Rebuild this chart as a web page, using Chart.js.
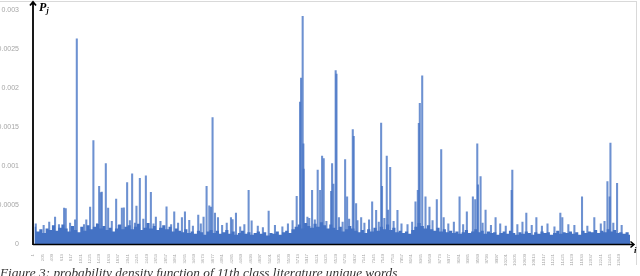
<!DOCTYPE html>
<html>
<head>
<meta charset="utf-8">
<script src="https://cdn.jsdelivr.net/npm/chart.js@4"></script>
<style>
  html, body { margin: 0; padding: 0; background: #fff; overflow: hidden; }
  #wrap { position: relative; width: 640px; height: 276px; }
  #frame { position: absolute; left: -2px; top: 1px; width: 639px; height: 264px;
           border-top: 1px solid #d9d9d9; border-right: 1px solid #d9d9d9; box-sizing: border-box; }
  #box { position: absolute; left: 0; top: 0; width: 640px; height: 266px; }
  #caption { position: absolute; left: 0; top: 266px; font: italic 13.3px 'Liberation Serif', serif;
             color: #333; white-space: nowrap; line-height: 14px; }
</style>
</head>
<body>
<div id="wrap">
  <div id="frame"></div>
  <div id="box"><canvas id="chart"></canvas></div>
  <div id="caption">Figure 3: probability density function of 11th class literature unique words</div>
</div>
<script>
// word rank labels shown on the x axis
const tickLabels = [
  1, 205, 409, 613, 817, 1021, 1225, 1429, 1633, 1837, 2041, 2245, 2449, 2653, 2857, 3061,
  3265, 3469, 3673, 3877, 4081, 4285, 4489, 4693, 4897, 5101, 5305, 5509, 5713, 5917, 6121,
  6325, 6529, 6733, 6937, 7141, 7345, 7549, 7753, 7957, 8161, 8365, 8569, 8773, 8977, 9181,
  9385, 9589, 9793, 9997, 10201, 10405, 10609, 10813, 11017, 11221, 11425, 11629, 11833,
  12037, 12241, 12445, 12649
];
const lastWord = 12880;

// background level, one value per 68 words
const binWidth = 68;
const baseLevel = [
  0.00022, 0.00016, 0.00019, 0.00014, 0.00020, 0.00018, 0.00024, 0.00017, 0.00021, 0.00025,
  0.00020, 0.00016, 0.00023, 0.00018, 0.00015, 0.00022, 0.00017, 0.00024, 0.00019, 0.00022,
  0.00026, 0.00020, 0.00023, 0.00018, 0.00021, 0.00016, 0.00020, 0.00025, 0.00019, 0.00022,
  0.00024, 0.00019, 0.00022, 0.00026, 0.00018, 0.00021, 0.00027, 0.00020, 0.00023, 0.00018,
  0.00021, 0.00024, 0.00019, 0.00022, 0.00016, 0.00020, 0.00017, 0.00015, 0.00019, 0.00014,
  0.00016, 0.00013, 0.00017, 0.00015, 0.00012, 0.00016, 0.00018, 0.00014, 0.00017, 0.00013,
  0.00015, 0.00018, 0.00013, 0.00016, 0.00012, 0.00014, 0.00017, 0.00013, 0.00015, 0.00012,
  0.00014, 0.00016, 0.00013, 0.00015, 0.00011, 0.00014, 0.00013, 0.00016, 0.00012, 0.00015,
  0.00017, 0.00014, 0.00019, 0.00022, 0.00025, 0.00020, 0.00027, 0.00023, 0.00021, 0.00026,
  0.00022, 0.00028, 0.00024, 0.00020, 0.00025, 0.00021, 0.00018, 0.00022, 0.00016, 0.00019,
  0.00023, 0.00020, 0.00017, 0.00015, 0.00018, 0.00014, 0.00019, 0.00016, 0.00021, 0.00017,
  0.00022, 0.00019, 0.00025, 0.00018, 0.00021, 0.00015, 0.00017, 0.00014, 0.00016, 0.00013,
  0.00018, 0.00022, 0.00027, 0.00023, 0.00020, 0.00024, 0.00019, 0.00017, 0.00021, 0.00016,
  0.00019, 0.00015, 0.00017, 0.00014, 0.00016, 0.00013, 0.00015, 0.00018, 0.00014, 0.00016,
  0.00019, 0.00015, 0.00017, 0.00013, 0.00016, 0.00014, 0.00015, 0.00012, 0.00014, 0.00016,
  0.00013, 0.00017, 0.00014, 0.00012, 0.00015, 0.00013, 0.00016, 0.00014, 0.00012, 0.00015,
  0.00013, 0.00016, 0.00014, 0.00015, 0.00012, 0.00014, 0.00017, 0.00013, 0.00015, 0.00014,
  0.00016, 0.00013, 0.00015, 0.00012, 0.00017, 0.00014, 0.00016, 0.00015, 0.00018, 0.00014,
  0.00017, 0.00015, 0.00019, 0.00016, 0.00018, 0.00014, 0.00015, 0.00013, 0.00015, 0.00012
];

// individual words that stand out above the background
const spikeWord = [
  476, 671, 707, 908, 945, 1232, 1303, 1427, 1460, 1485, 1571, 1621, 1794, 1917, 1960,
  2031, 2139, 2232, 2305, 2435, 2543, 2651, 2881, 3047, 3213, 3278, 3371, 3565, 3680,
  3745, 3803, 3840, 3874, 3926, 3991, 4271, 4306, 4379, 4652, 4717, 5084, 5689, 5761,
  5783, 5818, 5833, 5840, 5920, 6021, 6142, 6194, 6237, 6272, 6431, 6453, 6481, 6530,
  6548, 6734, 6777, 6820, 6899, 6920, 6971, 7080, 7317, 7403, 7511, 7530, 7632, 7662,
  7706, 7863, 8252, 8302, 8324, 8345, 8397, 8468, 8554, 8712, 8807, 8860, 9203, 9360,
  9490, 9540, 9585, 9600, 9656, 9764, 9980, 10326, 10341, 10643, 10860, 11377, 11420,
  11845, 12110, 12393, 12440, 12458, 12601
];
const spikeProb = [
  0.000347, 0.000461, 0.000455, 0.000309, 0.002633, 0.000474, 0.001328, 0.000739, 0.000660,
  0.000667, 0.001033, 0.000461, 0.000575, 0.000461, 0.000465, 0.000789, 0.000899, 0.000486,
  0.000844, 0.000874, 0.000663, 0.000347, 0.000477, 0.000414, 0.000339, 0.000414, 0.000305,
  0.000372, 0.000347, 0.000739, 0.000490, 0.000474, 0.001623, 0.000398, 0.000339, 0.000339,
  0.000313, 0.000398, 0.000688, 0.000297, 0.000423, 0.000613, 0.001821, 0.002128, 0.002920,
  0.001286, 0.000960, 0.000347, 0.000688, 0.000950, 0.000688, 0.001127, 0.001096, 0.000676,
  0.001033, 0.000768, 0.002225, 0.002180, 0.001084, 0.000604, 0.000320, 0.001467, 0.001383,
  0.000520, 0.000340, 0.000541, 0.000432, 0.001551, 0.000740, 0.001127, 0.000436, 0.000983,
  0.000432, 0.000541, 0.000688, 0.001547, 0.001804, 0.002157, 0.000604, 0.000474, 0.000571,
  0.001210, 0.000340, 0.000604, 0.000414, 0.000604, 0.000571, 0.001286, 0.000760, 0.000865,
  0.000436, 0.000340, 0.000688, 0.000950, 0.000398, 0.000340, 0.000398, 0.000340, 0.000604,
  0.000340, 0.000802, 0.000604, 0.001294, 0.000780
];

// smaller bumps just above the background
const minorWord = [
  60, 230, 350, 560, 800, 1100, 1150, 1380, 1700, 1850, 2090, 2200, 2380, 2600, 2750, 2980,
  3130, 3450, 3620, 4080, 4180, 4470, 4560, 4850, 4960, 5220, 5380, 5500, 5600, 5960, 6080,
  6330, 6600, 6680, 7000, 7150, 7250, 7460, 7580, 7780, 7950, 8080, 8180, 8620, 8960, 9080,
  9280, 9700, 9880, 10080, 10200, 10450, 10560, 10760, 10980, 11100, 11250, 11550, 11680,
  11960, 12250, 12330, 12520, 12700
];
const minorProb = [
  0.00026, 0.00024, 0.00028, 0.00025, 0.00027, 0.00025, 0.00031, 0.00026, 0.00029, 0.00024,
  0.00030, 0.00027, 0.00032, 0.00026, 0.00029, 0.00025, 0.00027, 0.00023, 0.00026, 0.00024,
  0.00027, 0.00022, 0.00025, 0.00023, 0.00021, 0.00024, 0.00022, 0.00026, 0.00030, 0.00033,
  0.00031, 0.00029, 0.00034, 0.00028, 0.00030, 0.00027, 0.00031, 0.00028, 0.00033, 0.00029,
  0.00026, 0.00025, 0.00028, 0.00030, 0.00026, 0.00028, 0.00025, 0.00027, 0.00024, 0.00026,
  0.00023, 0.00025, 0.00028, 0.00024, 0.00023, 0.00026, 0.00022, 0.00025, 0.00024, 0.00023,
  0.00026, 0.00029, 0.00027, 0.00024
];

const yTicks = [0, 0.0005, 0.001, 0.0015, 0.002, 0.0025, 0.003];

const blue = '#4472C4';
const tickGrey = '#a6a6a6';

const baseData = baseLevel.map((v, i) => ({ x: i * binWidth + binWidth / 2, y: v }));
const spikeData = spikeWord.map((w, i) => ({ x: w, y: spikeProb[i] }))
  .concat(minorWord.map((w, i) => ({ x: w, y: minorProb[i] })));

// black axes with arrow heads and the P_j / i labels
const arrowAxes = {
  id: 'arrowAxes',
  afterDraw(chart) {
    const { ctx, chartArea: a } = chart;
    const y0 = chart.scales.y.getPixelForValue(0);
    ctx.save();
    ctx.strokeStyle = '#000';
    ctx.lineWidth = 1.8;
    ctx.beginPath();
    ctx.moveTo(a.left, y0 + 1);
    ctx.lineTo(a.left, 2);
    ctx.moveTo(a.left - 3, 5.5);
    ctx.lineTo(a.left, 2);
    ctx.lineTo(a.left + 3, 5.5);
    ctx.stroke();
    ctx.lineWidth = 1.5;
    ctx.beginPath();
    ctx.moveTo(a.left, y0 + 0.5);
    ctx.lineTo(634, y0 + 0.5);
    ctx.moveTo(630.5, y0 - 2.5);
    ctx.lineTo(634, y0 + 0.5);
    ctx.lineTo(630.5, y0 + 3.5);
    ctx.stroke();
    ctx.fillStyle = '#000';
    ctx.font = 'italic bold 12px "Liberation Serif"';
    ctx.textBaseline = 'alphabetic';
    ctx.fillText('P', 39, 11);
    ctx.font = 'italic bold 8px "Liberation Serif"';
    ctx.fillText('j', 46.5, 13);
    ctx.font = 'italic bold 9px "Liberation Serif"';
    ctx.fillText('i', 634, 253);
    ctx.restore();
  }
};

new Chart(document.getElementById('chart'), {
  type: 'bar',
  data: {
    datasets: [
      {
        type: 'line',
        label: 'background',
        data: baseData,
        stepped: 'middle',
        fill: 'origin',
        backgroundColor: blue,
        borderWidth: 0,
        pointRadius: 0,
        order: 1
      },
      {
        label: 'P_j',
        data: spikeData,
        backgroundColor: 'rgba(68,114,196,0.78)',
        barThickness: 1.4,
        grouped: false,
        order: 2
      }
    ]
  },
  options: {
    responsive: true,
    maintainAspectRatio: false,
    animation: false,
    events: [],
    layout: { padding: { top: 6, right: 10, left: 0, bottom: 0 } },
    plugins: {
      legend: { display: false },
      tooltip: { enabled: false }
    },
    scales: {
      x: {
        type: 'linear',
        min: 0,
        max: lastWord,
        offset: false,
        grid: { display: false },
        border: { display: false },
        afterBuildTicks: axis => { axis.ticks = tickLabels.map(v => ({ value: v })); },
        afterFit: axis => { axis.height = 22; },
        ticks: {
          autoSkip: false,
          minRotation: 90,
          maxRotation: 90,
          padding: 2,
          color: tickGrey,
          font: { family: 'Liberation Sans', size: 4.3 },
          callback: v => String(v)
        }
      },
      y: {
        min: 0,
        max: 0.003,
        grid: { display: false },
        border: { display: false },
        afterBuildTicks: axis => { axis.ticks = yTicks.map(v => ({ value: v })); },
        afterFit: axis => { axis.width = 33; },
        ticks: {
          padding: 6,
          color: tickGrey,
          font: { family: 'Liberation Sans', size: 7 },
          callback: v => String(v)
        }
      }
    }
  },
  plugins: [arrowAxes]
});
</script>
</body>
</html>
